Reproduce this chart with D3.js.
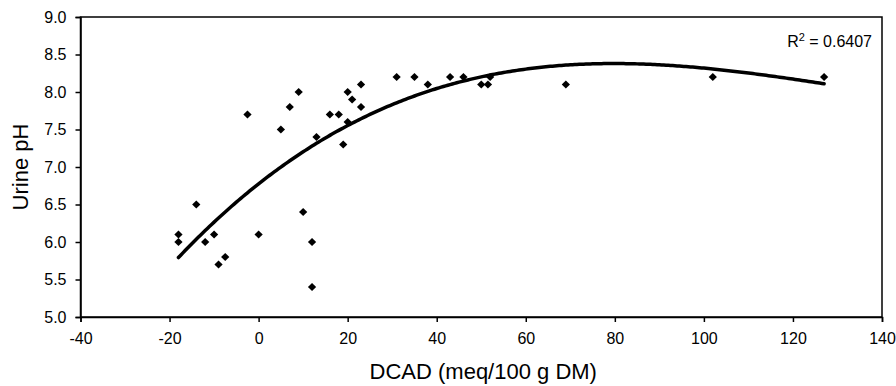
<!DOCTYPE html>
<html>
<head>
<meta charset="utf-8">
<script src="https://cdn.jsdelivr.net/npm/d3@7"></script>
<style>
  body { margin: 0; background: #fff; }
  text { font-family: "Liberation Sans", Arial, sans-serif; fill: #000; }
</style>
</head>
<body>
<svg id="chart" width="896" height="386"></svg>
<script>
// values
const dcad = [-18, -18, -14, -12, -10, -9, -7.5, -2.5, 0, 5, 7, 9, 10, 12, 12, 13, 16, 18, 19, 20,
              20, 21, 23, 23, 31, 35, 38, 43, 46, 50, 51.5, 52, 69, 102, 127];
const urinePh = [6.1, 6.0, 6.5, 6.0, 6.1, 5.7, 5.8, 7.7, 6.1, 7.5, 7.8, 8.0, 6.4, 6.0, 5.4, 7.4, 7.7, 7.7, 7.3, 7.6,
                 8.0, 7.9, 8.1, 7.8, 8.2, 8.2, 8.1, 8.2, 8.2, 8.1, 8.1, 8.2, 8.1, 8.2, 8.2];
const xTicks = [-40, -20, 0, 20, 40, 60, 80, 100, 120, 140];
const yTicks = [5.0, 5.5, 6.0, 6.5, 7.0, 7.5, 8.0, 8.5, 9.0];
const xTitle = 'DCAD (meq/100 g DM)';
const yTitle = 'Urine pH';
const r2Value = '0.6407';
const fitOrder = 3;

const margin = { top: 17, right: 14, bottom: 69, left: 80.5 };
const width = 896, height = 386;
const chartW = width - margin.left - margin.right;
const chartH = height - margin.top - margin.bottom;

const svg = d3.select('#chart');
const g = svg.append('g').attr('transform', `translate(${margin.left},${margin.top})`);

const x = d3.scaleLinear().domain([-40, 140]).range([0, chartW]);
const y = d3.scaleLinear().domain([5, 9]).range([chartH, 0]);

// polynomial least squares (like the spreadsheet trendline)
function polyFit(xs, ys, order) {
	let n = order + 1;
	let A = d3.range(n).map(i => d3.range(n).map(j => d3.sum(xs, v => Math.pow(v, i + j))));
	let b = d3.range(n).map(i => d3.sum(xs, (v, k) => Math.pow(v, i) * ys[k]));
	for (let c = 0; c < n; c++) {
		let p = c;
		for (let r = c + 1; r < n; r++) if (Math.abs(A[r][c]) > Math.abs(A[p][c])) p = r;
		[A[c], A[p]] = [A[p], A[c]];
		[b[c], b[p]] = [b[p], b[c]];
		for (let r = c + 1; r < n; r++) {
			let f = A[r][c] / A[c][c];
			for (let k = c; k < n; k++) A[r][k] -= f * A[c][k];
			b[r] -= f * b[c];
		}
	}
	let coef = new Array(n).fill(0);
	for (let r = n - 1; r >= 0; r--) {
		let s = b[r];
		for (let k = r + 1; k < n; k++) s -= A[r][k] * coef[k];
		coef[r] = s / A[r][r];
	}
	return coef;
}
const coef = polyFit(dcad, urinePh, fitOrder);
const trend = v => coef.reduce((acc, c, i) => acc + c * Math.pow(v, i), 0);

// frame
g.append('rect')
	.attr('width', chartW).attr('height', chartH)
	.attr('fill', 'none').attr('stroke', '#000').attr('stroke-width', 1.5);

const xAxis = g.append('g')
	.attr('transform', `translate(0,${chartH})`)
	.call(d3.axisBottom(x).tickValues(xTicks).tickSize(5).tickPadding(11).tickFormat(d3.format('d')));
const yAxis = g.append('g')
	.call(d3.axisLeft(y).tickValues(yTicks).tickSize(5).tickPadding(9).tickFormat(d3.format('.1f')));

[xAxis, yAxis].forEach(a => {
	a.select('.domain').attr('stroke', '#000').attr('stroke-width', 1.5);
	a.selectAll('.tick line').attr('stroke', '#000').attr('stroke-width', 1.5);
	a.selectAll('.tick text').attr('font-size', 16).attr('font-family', '"Liberation Sans", Arial, sans-serif').attr('fill', '#000');
});
xAxis.selectAll('.tick text').text(d => d < 0 ? '-' + Math.abs(d) : d);

// trend line
const line = d3.line().x(d => x(d)).y(d => y(trend(d))).curve(d3.curveLinear);
const xs = d3.range(d3.min(dcad), d3.max(dcad), 0.5).concat([d3.max(dcad)]);
g.append('path')
	.attr('d', line(xs))
	.attr('fill', 'none').attr('stroke', '#000').attr('stroke-width', 3.5)
	.attr('stroke-linecap', 'round');

// points
const diamond = d3.symbol().type(d3.symbolSquare).size(34);
g.selectAll('.pt')
	.data(dcad.map((d, i) => ({ x: d, y: urinePh[i] })))
	.join('path')
	.attr('class', 'pt')
	.attr('d', diamond)
	.attr('transform', d => `translate(${x(d.x)},${y(d.y)}) rotate(45)`)
	.attr('fill', '#000');

// R^2 label
const r2 = g.append('text')
	.attr('x', chartW - 10).attr('y', 30)
	.attr('text-anchor', 'end').attr('font-size', 16);
r2.append('tspan').text('R');
r2.append('tspan').attr('dy', -6).attr('font-size', 11).text('2');
r2.append('tspan').attr('dy', 6).text(' = ' + r2Value);

// titles
svg.append('text')
	.attr('x', margin.left + chartW / 2 + 2).attr('y', 379)
	.attr('text-anchor', 'middle').attr('font-size', 22)
	.text(xTitle);
svg.append('text')
	.attr('transform', `translate(28,${margin.top + chartH / 2}) rotate(-90)`)
	.attr('text-anchor', 'middle').attr('font-size', 22)
	.text(yTitle);
</script>
</body>
</html>
